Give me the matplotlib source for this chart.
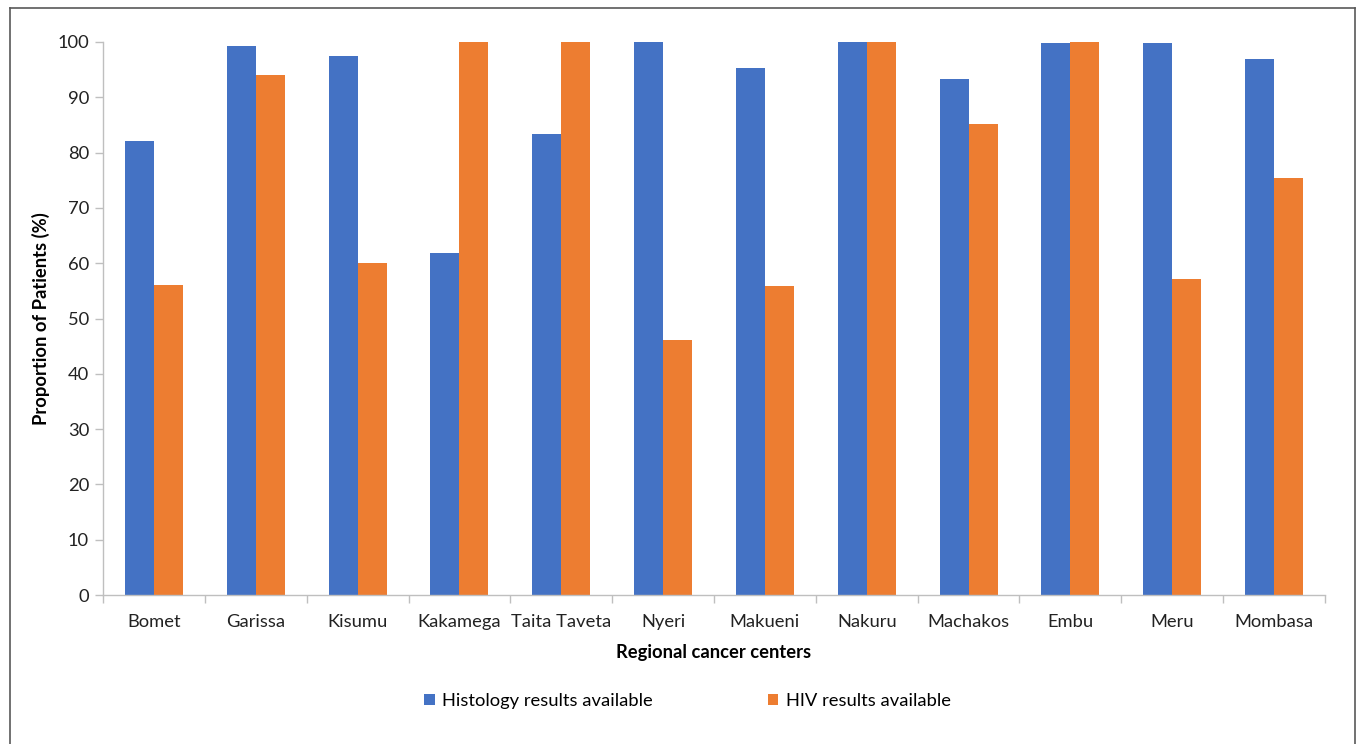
import matplotlib.pyplot as plt
import numpy as np
from matplotlib.patches import Patch
from matplotlib.lines import Line2D

centers = ["Bomet", "Garissa", "Kisumu", "Kakamega", "Taita Taveta", "Nyeri",
           "Makueni", "Nakuru", "Machakos", "Embu", "Meru", "Mombasa"]
histology = [82.1, 99.2, 97.5, 61.8, 83.3, 100.0, 95.3, 100.0, 93.3, 99.9, 99.8, 96.9]
hiv = [56.0, 94.1, 60.0, 100.0, 100.0, 46.1, 55.9, 100.0, 85.2, 100.0, 57.2, 75.4]
series_names = ["Histology results available", "HIV results available"]
yticks = [0, 10, 20, 30, 40, 50, 60, 70, 80, 90, 100]

BLUE = "#4472C4"
ORANGE = "#ED7D31"
AXIS_GREY = "#BFBFBF"

plt.rcParams["font.family"] = ["Lato", "DejaVu Sans"]
FS = 13.2

fig = plt.figure(figsize=(13.56, 7.44), dpi=100)
ax = fig.add_axes([103 / 1356, 1 - 595 / 744, (1325 - 103) / 1356, (595 - 42) / 744])

x = np.arange(len(centers))
w = 0.285
ax.bar(x - w / 2, histology, w, color=BLUE, label=series_names[0])
ax.bar(x + w / 2, hiv, w, color=ORANGE, label=series_names[1])

ax.set_xlim(-0.5, len(centers) - 0.5)
ax.set_ylim(0, 100)
ax.set_yticks(yticks)
ax.set_yticklabels([str(v) for v in yticks], fontsize=FS, color="#222222")

# category labels centred, tick marks at category boundaries
ax.set_xticks(x)
ax.set_xticklabels(centers, fontsize=FS, color="#222222")
ax.tick_params(axis="x", length=0, pad=14)
ax.set_xticks(np.arange(len(centers) + 1) - 0.5, minor=True)
ax.tick_params(axis="x", which="minor", length=6, color=AXIS_GREY, width=1)
ax.tick_params(axis="y", length=6, color=AXIS_GREY, width=1, pad=4)

for s in ["top", "right"]:
    ax.spines[s].set_visible(False)
for s in ["left", "bottom"]:
    ax.spines[s].set_color(AXIS_GREY)
    ax.spines[s].set_linewidth(1)

ax.set_ylabel("Proportion of Patients (%)", fontsize=FS, fontweight="bold", labelpad=5)
ax.set_xlabel("Regional cancer centers", fontsize=FS, fontweight="bold", labelpad=10)

handles = [Patch(facecolor=BLUE), Patch(facecolor=ORANGE)]
fig.legend(handles, series_names, loc="center", bbox_to_anchor=(0.507, 1 - 701 / 744),
           ncol=2, frameon=False, fontsize=FS, handlelength=0.55, handleheight=0.55,
           handletextpad=0.4, columnspacing=6.3)

# outer chart frame
frame_c = "#595959"
fig.add_artist(Line2D([10 / 1356, 1355 / 1356], [1 - 8 / 744, 1 - 8 / 744],
                      transform=fig.transFigure, color=frame_c, lw=1.2))
fig.add_artist(Line2D([10 / 1356, 10 / 1356], [0, 1 - 8 / 744],
                      transform=fig.transFigure, color=frame_c, lw=1.2))
fig.add_artist(Line2D([1355 / 1356, 1355 / 1356], [0, 1 - 8 / 744],
                      transform=fig.transFigure, color=frame_c, lw=1.2))

fig.savefig("out.png", dpi=100)
